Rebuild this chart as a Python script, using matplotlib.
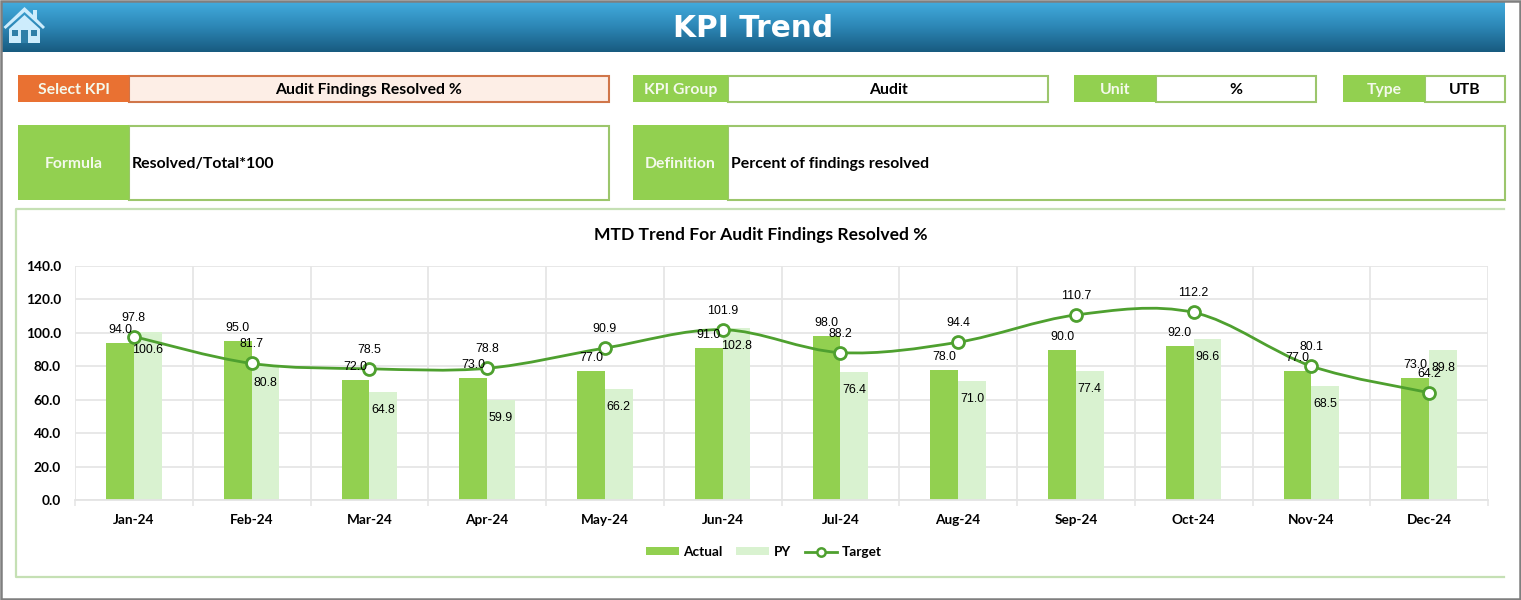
#!/usr/bin/env python3
"""KPI Trend dashboard: header cards and MTD chart"""

import numpy as np
import matplotlib
matplotlib.use('Agg')
import matplotlib.pyplot as plt
from matplotlib.patches import Rectangle, Polygon, PathPatch
from matplotlib.path import Path
from matplotlib.lines import Line2D

months = ['Jan-24', 'Feb-24', 'Mar-24', 'Apr-24', 'May-24', 'Jun-24',
          'Jul-24', 'Aug-24', 'Sep-24', 'Oct-24', 'Nov-24', 'Dec-24']
actual = [94.0, 95.0, 72.0, 73.0, 77.0, 91.0, 98.0, 78.0, 90.0, 92.0, 77.0, 73.0]
py = [100.6, 80.8, 64.8, 59.9, 66.2, 102.8, 76.4, 71.0, 77.4, 96.6, 68.5, 89.8]
target = [97.8, 81.7, 78.5, 78.8, 90.9, 101.9, 88.2, 94.4, 110.7, 112.2, 80.1, 64.2]
y_ticks = [0, 20, 40, 60, 80, 100, 120, 140]

GREEN = '#92D050'
PALE = '#D9F2D0'
LINE = '#4EA02F'
BORDER = '#9CC66C'
ORANGE = '#E97132'
HEAD_FONT = 'Lato'
W, H = 1521, 600


def card(bg, x0, x1, x2, y0, y1, label, value, fill=GREEN, edge=BORDER,
         fill_value='white', left_value=False):
    """Label block plus outlined value cell, in pixel coordinates"""
    bg.add_patch(Rectangle((x1, y0 + 0.5), x2 - x1 - 0.5, y1 - y0 - 1, fc=fill_value, ec=edge, lw=1.5))
    bg.add_patch(Rectangle((x0, y0), x1 - x0, y1 - y0, fc=fill, ec='none'))
    ym = (y0 + y1) / 2 + 1.5
    bg.text((x0 + x1) / 2, ym, label, color='#F4F9EC', ha='center',
            va='center', fontsize=11.3, fontweight='bold', family=HEAD_FONT)
    if left_value:
        bg.text(x1 + 3, ym, value, color='black', ha='left',
                va='center', fontsize=11.4, fontweight='bold', family=HEAD_FONT)
    else:
        bg.text((x1 + x2) / 2, ym, value, color='black', ha='center',
                va='center', fontsize=11.3, fontweight='bold', family=HEAD_FONT)


def draw_house(bg):
    c = '#CDECFC'
    bg.add_patch(Polygon([(3.5, 27), (24.5, 7), (33, 15), (33, 10), (37, 10),
                          (37, 19), (45, 27), (43, 29), (24.5, 12), (5.5, 29)],
                         fc=c, ec='none'))
    bg.add_patch(Polygon([(9, 29), (24.5, 15), (40, 29), (40, 43), (9, 43)], fc=c, ec='none'))
    for x0, x1, y0, y1 in [(12, 18, 30, 36), (31, 37, 30, 36), (21, 28, 30, 43)]:
        bg.add_patch(Rectangle((x0, y0), x1 - x0, y1 - y0, fc='#2F7FA8', ec='none'))


def smooth_path(x, y):
    """Bezier path through the points, same kind of smoothing as a spreadsheet line"""
    x = np.asarray(x, float)
    y = np.asarray(y, float)
    verts = [(x[0], y[0])]
    codes = [Path.MOVETO]
    for i in range(len(x) - 1):
        a = max(i - 1, 0)
        b = min(i + 2, len(x) - 1)
        verts.append((x[i] + (x[i + 1] - x[a]) / 6, y[i] + (y[i + 1] - y[a]) / 6))
        verts.append((x[i + 1] - (x[b] - x[i]) / 6, y[i + 1] - (y[b] - y[i]) / 6))
        verts.append((x[i + 1], y[i + 1]))
        codes += [Path.CURVE4] * 3
    return Path(verts, codes)


fig = plt.figure(figsize=(W / 100, H / 100), dpi=100, facecolor='white')

# background layer, pixel coordinates
bg = fig.add_axes([0, 0, 1, 1])
bg.set_xlim(0, W)
bg.set_ylim(H, 0)
bg.axis('off')

shade = np.linspace(0, 1, 100).reshape(-1, 1)
head_cmap = matplotlib.colors.LinearSegmentedColormap.from_list(
    'head', ['#42ABDD', '#2C86B5', '#185B80'])
bg.imshow(shade, cmap=head_cmap, extent=(2, 1505, 52, 2), aspect='auto', zorder=0)
bg.set_xlim(0, W)
bg.set_ylim(H, 0)
bg.text(753, 28.5, 'KPI Trend', color='white', ha='center', va='center',
        fontsize=21.3, fontweight='bold', family='DejaVu Sans')
draw_house(bg)

card(bg, 18, 129, 609, 75, 102, 'Select KPI', 'Audit Findings Resolved %',
     fill=ORANGE, edge='#D0764A', fill_value='#FDEEE6')
card(bg, 633, 728, 1048, 75, 102, 'KPI Group', 'Audit')
card(bg, 1074, 1156, 1316, 75, 102, 'Unit', '%')
card(bg, 1343, 1425, 1505, 75, 102, 'Type', 'UTB')
card(bg, 18, 129, 609, 125, 200, 'Formula', 'Resolved/Total*100', left_value=True)
card(bg, 633, 728, 1505, 125, 200, 'Definition', 'Percent of findings resolved', left_value=True)

# chart panel, open on the right side
bg.plot([1504, 16, 16, 1504], [209, 209, 577, 577], color='#C5E0B4', lw=1.6)
bg.text(761, 235, 'MTD Trend For Audit Findings Resolved %', color='black', ha='center',
        va='center', fontsize=12.6, fontweight='bold', family=HEAD_FONT)

# image frame
bg.add_patch(Rectangle((0.5, 0.5), W - 1.5, H - 1.5, fc='none', ec='#7F7F7F', lw=1.8, zorder=10))

ax = fig.add_axes([75 / W, (H - 500) / H, 1413 / W, 234 / H])
ax.patch.set_alpha(0)
xs = np.arange(len(months))
bar_w = 0.235

ax.bar(xs - bar_w / 2, actual, bar_w, color=GREEN, zorder=2)
ax.bar(xs + bar_w / 2, py, bar_w, color=PALE, zorder=2)
ax.add_patch(PathPatch(smooth_path(xs, target), fc='none', ec=LINE, lw=2.0, zorder=3))
ax.plot(xs, target, ls='none', marker='o', ms=8.6, mfc='white', mec=LINE, mew=2.0,
        zorder=4, clip_on=False)

ax.set_xlim(-0.5, len(months) - 0.5)
ax.set_ylim(0, 140)
ax.set_yticks(y_ticks)
ax.set_yticklabels([f'{v:.1f}' for v in y_ticks], fontsize=9.9, fontweight='bold', family=HEAD_FONT)
ax.set_xticks(xs)
ax.set_xticklabels(months, fontsize=9.8, fontweight='bold', family=HEAD_FONT)
ax.set_xticks(np.arange(-0.5, len(months)), minor=True)
ax.tick_params(axis='x', which='major', length=0, pad=10)
ax.tick_params(axis='x', which='minor', length=4, width=1.1, color='#E4E4E4')
ax.tick_params(axis='y', length=0, pad=10)
ax.grid(True, axis='y', color='#E6E6E6', lw=1.3, zorder=0)
ax.grid(True, axis='x', which='minor', color='#E6E6E6', lw=1.3, zorder=0)
for name, spine in ax.spines.items():
    spine.set_visible(name == 'bottom')
    spine.set_color('#E4E4E4')
    spine.set_linewidth(1.3)

# data labels, offsets in pixels
label_kw = dict(textcoords='offset pixels', ha='center', va='center', fontsize=8.9,
                family='Liberation Sans', color='black', zorder=5)
for i in xs:
    ax.annotate(f'{actual[i]:.1f}', (i - bar_w / 2, actual[i]), xytext=(0, 13), **label_kw)
    ax.annotate(f'{py[i]:.1f}', (i + bar_w / 2, py[i]), xytext=(0, -18), **label_kw)
    ax.annotate(f'{target[i]:.1f}', (i, target[i]), xytext=(0, 19), **label_kw)

handles = [Rectangle((0, 0), 1, 1, fc=GREEN, ec='none'),
           Rectangle((0, 0), 1, 1, fc=PALE, ec='none'),
           Line2D([], [], color=LINE, lw=2.0, marker='o', ms=6, mfc='white', mec=LINE, mew=1.8)]
fig.legend(handles, ['Actual', 'PY', 'Target'], loc='center', bbox_to_anchor=(764 / W, (H - 552) / H),
           ncol=3, frameon=False, prop={'family': HEAD_FONT, 'weight': 'bold', 'size': 9.8},
           handlelength=2.4, handleheight=0.5, handletextpad=0.35, columnspacing=1.0)

fig.savefig('out.png', dpi=100)
